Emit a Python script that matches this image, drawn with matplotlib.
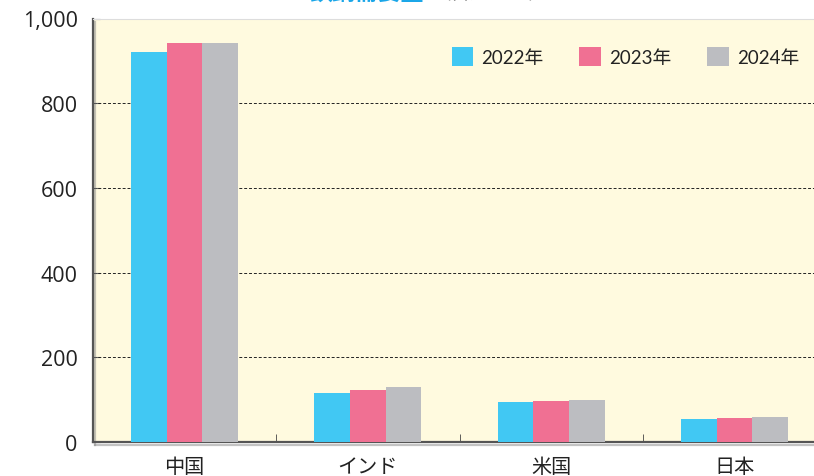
import numpy as np
import matplotlib.pyplot as plt
import matplotlib.patheffects as pe

plt.rcParams['font.family'] = ['Lato', 'Noto Sans CJK JP', 'DejaVu Sans']

# データ
countries = ['中国', 'インド', '米国', '日本']
years = ['2022年', '2023年', '2024年']
v2022 = [922, 116, 95, 54]
v2023 = [941, 123, 97, 57]
v2024 = [941, 130, 99, 59]
colors = ['#41C8F3', '#F07093', '#BCBDC1']
yticks = [0, 200, 400, 600, 800, 1000]

fig = plt.figure(figsize=(8.14, 4.77), dpi=100)
ax = fig.add_axes([93 / 814, 34 / 477, 733 / 814, 423.5 / 477])
ax.set_facecolor('#FFFADF')

x = np.arange(len(countries))
w = 0.195
for i, (vals, lab) in enumerate(zip([v2022, v2023, v2024], years)):
    ax.bar(x + (i - 1) * w, vals, w, color=colors[i], label=lab, zorder=3)

ax.set_xlim(-0.5, 3.5)
ax.set_ylim(0, 1000)
ax.set_yticks(yticks)
ax.set_yticklabels(['{:,}'.format(v) for v in yticks], fontsize=15.5, color='#222222',
                   family=['Open Sans'])
ax.set_xticks(x)
ax.set_xticklabels(countries, fontsize=14.5, color='#222222', family=['Noto Sans CJK JP'])
ax.set_xticks([0.5, 1.5, 2.5], minor=True)
ax.tick_params(axis='x', which='major', length=0, pad=10)
ax.tick_params(axis='x', which='minor', direction='in', length=6, color='#444444')
ax.tick_params(axis='y', direction='in', length=5, color='#666666', pad=11)

for yv in yticks[1:-1]:
    ax.axhline(yv, color='#222222', lw=0.7, ls=(0, (3, 2)), zorder=2)

ax.spines['right'].set_visible(False)
ax.spines['top'].set_color('#DDDDDD')
ax.spines['top'].set_linewidth(0.8)
for s in ['left', 'bottom']:
    ax.spines[s].set_color('#555555')
    ax.spines[s].set_linewidth(1.6)
    ax.spines[s].set_path_effects([pe.SimpleLineShadow(offset=(1.5, -2.5), shadow_color='#888888', alpha=0.5),
                                   pe.Normal()])

leg = ax.legend(loc='upper right', bbox_to_anchor=(0.987, 0.972), ncol=3, frameon=False,
                fontsize=13.5, handlelength=1.15, handleheight=1.15, handletextpad=0.45,
                columnspacing=1.9)
for t in leg.get_texts():
    t.set_color('#222222')

# 上端で切れているタイトル
fig.text(0.381, 1.0, '鉄鋼需要量', color='#1AA6E8', fontsize=16.5, fontweight='bold',
         family=['Noto Sans CJK JP'], va='baseline', ha='left')
fig.text(0.530, 1.002, '（百万トン）', color='#999999', fontsize=14,
         family=['Noto Sans CJK JP'], va='baseline', ha='left')

fig.savefig('out.png', dpi=100)
